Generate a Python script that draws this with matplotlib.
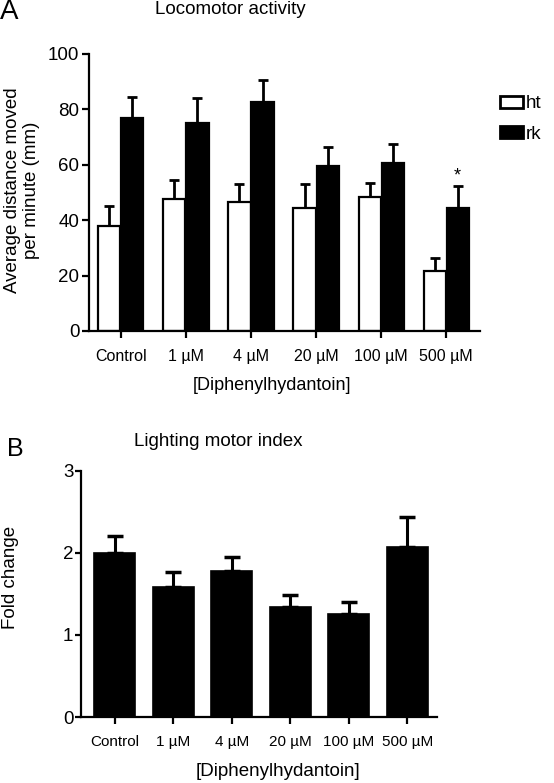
import matplotlib
matplotlib.use('Agg')
import matplotlib.pyplot as plt
from matplotlib.patches import Patch
import numpy as np

plt.rcParams['font.family'] = ['Liberation Sans', 'DejaVu Sans']

# Panel A data
doses = ['Control', '1 µM', '4 µM', '20 µM', '100 µM', '500 µM']
ht_mean = [38, 47.5, 46.5, 44.5, 48.3, 21.5]
ht_err = [7, 7, 6.5, 8.5, 5, 5]
rk_mean = [76.8, 75, 82.5, 59.5, 60.7, 44.5]
rk_err = [7.7, 9, 8, 7, 6.7, 8]

# Panel B data
fold_mean = [2.0, 1.58, 1.78, 1.34, 1.26, 2.07]
fold_err = [0.21, 0.19, 0.17, 0.15, 0.14, 0.37]

W, H = 554, 783
fig = plt.figure(figsize=(W / 100, H / 100), dpi=100)

def px_axes(left, right, top, bottom):
    return fig.add_axes([left / W, 1 - bottom / H, (right - left) / W, (bottom - top) / H])

def px_text(xp, yp, s, **kw):
    return fig.text(xp / W, 1 - yp / H, s, **kw)

def style_axes(ax):
    for s in ['top', 'right']:
        ax.spines[s].set_visible(False)
    for s in ['left', 'bottom']:
        ax.spines[s].set_linewidth(1.6)
    ax.tick_params(width=1.6, length=5, direction='out', labelsize=11.5, colors='black')

# We build the first panel: grouped bars
ax1 = px_axes(89, 480, 54, 331)
x = np.arange(len(doses))
bw = 0.34
off = 0.177
ax1.errorbar(x - off, ht_mean, yerr=[np.zeros(len(x)), ht_err], fmt='none',
             ecolor='black', elinewidth=2, capsize=3.5, capthick=2, zorder=1)
ax1.errorbar(x + off, rk_mean, yerr=[np.zeros(len(x)), rk_err], fmt='none',
             ecolor='black', elinewidth=2, capsize=3.5, capthick=2, zorder=1)
ax1.bar(x - off, ht_mean, bw, color='white', edgecolor='black', linewidth=1.6, zorder=2)
ax1.bar(x + off, rk_mean, bw, color='black', edgecolor='black', linewidth=1.6, zorder=2)
ax1.text(5 + off, rk_mean[5] + rk_err[5] + 0.5, '*', ha='center', va='bottom', fontsize=13)
ax1.set_xlim(-0.49, 5.52)
ax1.set_ylim(0, 100)
ax1.set_yticks([0, 20, 40, 60, 80, 100])
ax1.set_xticks(x)
ax1.set_xticklabels(doses)
style_axes(ax1)
ax1.tick_params(axis='x', pad=8)
ax1.tick_params(axis='y', labelsize=13.5, pad=2)

handles = [Patch(facecolor='white', edgecolor='black', linewidth=2),
           Patch(facecolor='black', edgecolor='black', linewidth=2)]
fig.legend(handles, ['ht', 'rk'], loc='upper left', bbox_to_anchor=(492 / W, 1 - 88 / H),
           frameon=False, fontsize=13.5, handlelength=1.25, handleheight=0.65,
           handletextpad=0.15, labelspacing=0.7, borderaxespad=0)

px_text(22, 190, 'Average distance moved\nper minute (mm)', ha='center', va='center',
        rotation=90, fontsize=13.5, linespacing=1.15)
px_text(230, 10, 'Locomotor activity', ha='center', va='center', fontsize=13.5)
px_text(0, 12, 'A', ha='left', va='center', fontsize=20)
px_text(272, 386, '[Diphenylhydantoin]', ha='center', va='center', fontsize=13)

# Second panel: single bars
ax2 = px_axes(81, 437, 470.7, 717)
ax2.errorbar(x, fold_mean, yerr=[np.zeros(len(x)), fold_err], fmt='none',
             ecolor='black', elinewidth=2.2, capsize=6, capthick=2.5, zorder=1)
ax2.bar(x, fold_mean, 0.7, color='black', edgecolor='black', linewidth=1.2, zorder=2)
ax2.set_xlim(-0.58, 5.51)
ax2.set_ylim(0, 3)
ax2.set_yticks([0, 1, 2, 3])
ax2.set_xticks(x)
ax2.set_xticklabels(doses)
style_axes(ax2)
ax2.tick_params(axis='x', pad=8, labelsize=11)
ax2.tick_params(axis='y', length=4, pad=1.5, labelsize=13.5)

px_text(11, 577, 'Fold change', ha='center', va='center', rotation=90, fontsize=13.5)
px_text(218, 442, 'Lighting motor index', ha='center', va='center', fontsize=13.5)
px_text(7, 449, 'B', ha='left', va='center', fontsize=18)
px_text(278, 772, '[Diphenylhydantoin]', ha='center', va='center', fontsize=13.5)

fig.savefig('out.png', dpi=100)
